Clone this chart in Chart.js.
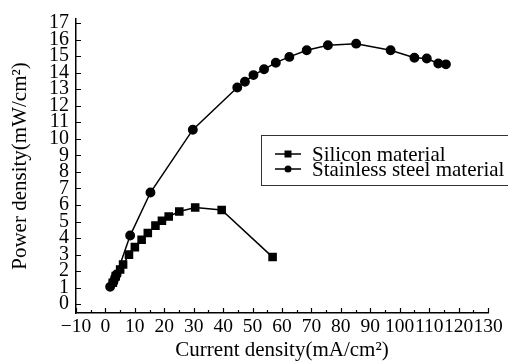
<!DOCTYPE html>
<html>
<head>
<meta charset="utf-8">
<script src="https://cdn.jsdelivr.net/npm/chart.js@4/dist/chart.umd.min.js"></script>
<style>
  body { margin: 0; background: #fff; }
  #wrap { width: 508px; height: 362px; position: relative; }
</style>
</head>
<body>
<div id="wrap"><canvas id="powerChart" width="508" height="362"></canvas></div>
<script>
// datos
const siliconX = [2.5, 3.5, 5, 6, 8, 10, 12.3, 14.4, 17, 19.2, 21.5, 25.1, 30.5, 39.5, 56.8];
const siliconY = [1.3, 1.7, 2.1, 2.4, 3.0, 3.45, 3.9, 4.3, 4.75, 5.05, 5.3, 5.6, 5.85, 5.7, 2.85];

const steelX = [1.6, 2.7, 3.3, 3.8, 8.4, 15.3, 29.7, 44.8, 47.4, 50.3, 53.9, 57.9, 62.5, 68.4, 75.6, 85.2, 96.9, 105, 109.2, 113.1, 115.7];
const steelY = [1.05, 1.35, 1.6, 1.8, 4.15, 6.75, 10.55, 13.1, 13.45, 13.85, 14.2, 14.6, 14.95, 15.35, 15.65, 15.75, 15.35, 14.9, 14.85, 14.55, 14.5];

const seriesNames = ['Silicon material', 'Stainless steel material'];
const xTicks = [-10, 0, 10, 20, 30, 40, 50, 60, 70, 80, 90, 100, 110, 120, 130];
const xMinorTicks = [-5, 5, 15, 25, 35, 45, 55, 65, 75, 85, 95, 105, 115, 125];
const yTicks = [0, 1, 2, 3, 4, 5, 6, 7, 8, 9, 10, 11, 12, 13, 14, 15, 16, 17];

const serif = 'Liberation Serif';

function toPoints(xs, ys) {
    return xs.map((x, i) => ({ x: x, y: ys[i] }));
}

// ticks hacia adentro + leyenda en recuadro
const axisExtras = {
    id: 'axisExtras',
    afterDraw(chart) {
        const ctx = chart.ctx;
        const xs = chart.scales.x;
        const ys = chart.scales.y;
        const area = chart.chartArea;
        ctx.save();
        ctx.strokeStyle = '#000';
        ctx.lineWidth = 1.2;
        ctx.beginPath();
        xTicks.forEach(v => {
            const px = Math.round(xs.getPixelForValue(v)) + 0.5;
            ctx.moveTo(px, area.bottom);
            ctx.lineTo(px, area.bottom - 5);
        });
        xMinorTicks.forEach(v => {
            const px = Math.round(xs.getPixelForValue(v)) + 0.5;
            ctx.moveTo(px, area.bottom);
            ctx.lineTo(px, area.bottom - 3);
        });
        yTicks.forEach(v => {
            const py = Math.round(ys.getPixelForValue(v)) + 0.5;
            ctx.moveTo(area.left, py);
            ctx.lineTo(area.left + 5, py);
        });
        ctx.stroke();

        // leyenda
        ctx.strokeStyle = '#333';
        ctx.lineWidth = 1;
        ctx.strokeRect(261.5, 135.5, 260, 50);
        ctx.font = '21px "' + serif + '"';
        ctx.textBaseline = 'middle';
        ctx.fillStyle = '#000';
        chart.data.datasets.forEach((ds, i) => {
            const y = 154 + i * 15;
            ctx.strokeStyle = '#000';
            ctx.lineWidth = 1.5;
            ctx.beginPath();
            ctx.moveTo(275, y);
            ctx.lineTo(301, y);
            ctx.stroke();
            ctx.beginPath();
            if (ds.pointStyle === 'rect') {
                ctx.rect(284.5, y - 3.5, 7, 7);
            } else {
                ctx.arc(288, y, 3.5, 0, Math.PI * 2);
            }
            ctx.fill();
            ctx.fillText(ds.label, 312, y + 1);
        });
        ctx.restore();
    }
};

const ctx = document.getElementById('powerChart').getContext('2d');
new Chart(ctx, {
    type: 'line',
    data: {
        datasets: [{
            label: seriesNames[0],
            data: toPoints(siliconX, siliconY),
            borderColor: '#000',
            backgroundColor: '#000',
            borderWidth: 1.5,
            pointStyle: 'rect',
            pointRadius: 5,
            tension: 0
        }, {
            label: seriesNames[1],
            data: toPoints(steelX, steelY),
            borderColor: '#000',
            backgroundColor: '#000',
            borderWidth: 1.5,
            pointStyle: 'circle',
            pointRadius: 4.2,
            tension: 0
        }]
    },
    options: {
        responsive: false,
        animation: false,
        layout: { padding: { top: 12, right: 20, left: 0, bottom: 0 } },
        plugins: {
            legend: { display: false },
            tooltip: { enabled: false }
        },
        scales: {
            x: {
                type: 'linear',
                min: -10,
                max: 130,
                afterBuildTicks: s => { s.ticks = xTicks.map(v => ({ value: v })); },
                afterFit: s => { s.height = 49; },
                grid: { drawOnChartArea: false, drawTicks: false },
                border: { display: true, color: '#000', width: 1.5 },
                ticks: {
                    autoSkip: false,
                    maxRotation: 0,
                    padding: 2,
                    color: '#000',
                    font: { family: serif, size: 19.5 },
                    callback: v => (v < 0 ? '\u2212' + Math.abs(v) : String(v))
                },
                title: {
                    display: true,
                    text: 'Current density(mA/cm\u00B2)',
                    color: '#000',
                    font: { family: serif, size: 21, lineHeight: 1.1 },
                    padding: 0
                }
            },
            y: {
                type: 'linear',
                min: -0.53,
                max: 17.24,
                afterBuildTicks: s => { s.ticks = yTicks.map(v => ({ value: v })); },
                afterFit: s => { s.width = 76; },
                grid: { drawOnChartArea: false, drawTicks: false },
                border: { display: true, color: '#000', width: 1.5 },
                ticks: {
                    autoSkip: false,
                    padding: 7,
                    color: '#000',
                    font: { family: serif, size: 20 }
                },
                title: {
                    display: true,
                    text: 'Power density(mW/cm\u00B2)',
                    color: '#000',
                    font: { family: serif, size: 21, lineHeight: 1.1 },
                    padding: { top: 9, bottom: 0 }
                }
            }
        }
    },
    plugins: [axisExtras]
});
</script>
</body>
</html>
